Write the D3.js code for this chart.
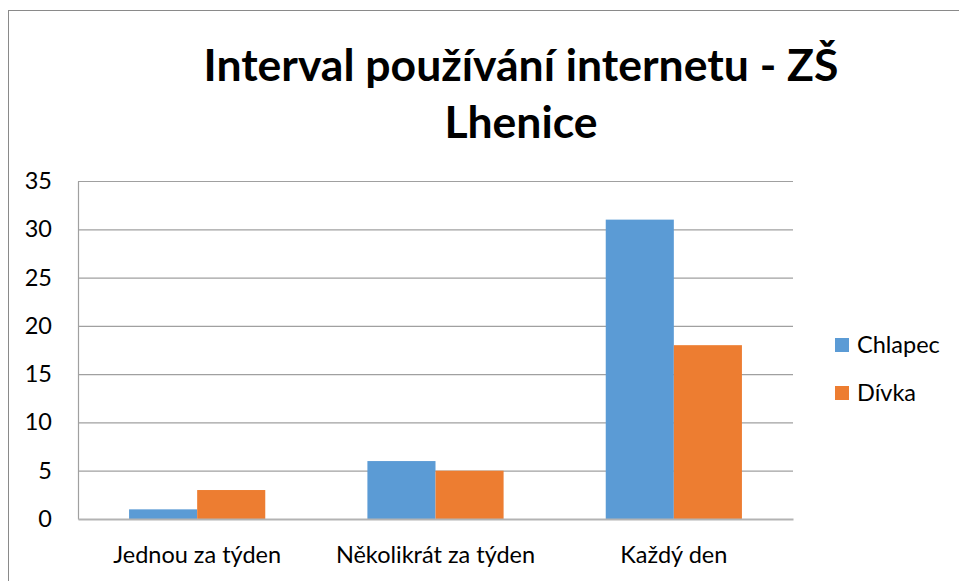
<!DOCTYPE html>
<html><head><meta charset="utf-8">
<script src="https://cdn.jsdelivr.net/npm/d3@7"></script>
<style>body{margin:0;background:#fff}svg{display:block}</style>
</head><body>
<script>
const categories = ["Jednou za týden", "Několikrát za týden", "Každý den"];
const seriesNames = ["Chlapec", "Dívka"];
const chlapec = [1, 6, 31];
const divka = [3, 5, 18];
const yTicks = [0, 5, 10, 15, 20, 25, 30, 35];
const titleLines = ["Interval používání internetu - ZŠ", "Lhenice"];
const colors = ["#5B9BD5", "#ED7D31"];
const seriesValues = [chlapec, divka];

(function () {
const W = 959, H = 581;
const font = "Lato, 'Open Sans', sans-serif";
const fs = 23.5;
const svg = d3.select("body").append("svg").attr("width", W).attr("height", H);

svg.append("rect").attr("x", 8.5).attr("y", 10.5).attr("width", W).attr("height", H)
  .attr("fill", "#fff").attr("stroke", "#8a8a8a").attr("stroke-width", 1);

const pL = 78, pR = 793, pT = 181, pB = 519;
const x0 = d3.scaleBand().domain(categories).range([pL, pR]).paddingInner(0).paddingOuter(0);
const x1 = d3.scaleBand().domain(seriesNames).range([0, x0.bandwidth()]).paddingInner(0).paddingOuter(0.75);
const y = d3.scaleLinear().domain([0, 35]).range([pB, pT]);

const grid = svg.append("g").attr("transform", `translate(${pL},0)`)
  .call(d3.axisLeft(y).tickValues(yTicks.filter(v => v > 0)).tickSize(-(pR - pL)).tickFormat(""));
grid.select(".domain").remove();
grid.selectAll("line").attr("stroke", "#a0a0a0").attr("stroke-width", 1.2);

seriesNames.forEach((s, si) => {
  svg.append("g").selectAll("rect").data(categories).join("rect")
    .attr("x", c => x0(c) + x1(s))
    .attr("width", x1.bandwidth())
    .attr("y", (c, i) => y(seriesValues[si][i]))
    .attr("height", (c, i) => pB - y(seriesValues[si][i]))
    .attr("fill", colors[si]);
});

const ya = svg.append("g").attr("transform", `translate(${pL},0)`)
  .call(d3.axisLeft(y).tickValues(yTicks).tickSize(0).tickPadding(26));
ya.select(".domain").attr("stroke", "#a0a0a0").attr("stroke-width", 1.2);
ya.selectAll("text").attr("font-family", font).attr("font-size", fs).attr("fill", "#000");

const xa = svg.append("g").attr("transform", `translate(0,${pB})`)
  .call(d3.axisBottom(x0).tickSize(0).tickPadding(27));
xa.select(".domain").attr("stroke", "#b3b3b3").attr("stroke-width", 2);
xa.selectAll("text").attr("font-family", font).attr("font-size", fs).attr("fill", "#000");

svg.append("g").selectAll("text").data(titleLines).join("text")
  .attr("x", 521).attr("y", (d, i) => 81 + i * 57)
  .attr("text-anchor", "middle").attr("font-family", font).attr("font-weight", "bold")
  .attr("font-size", 44.5).attr("fill", "#000").text(d => d);

const lg = svg.append("g").selectAll("g").data(seriesNames).join("g")
  .attr("transform", (d, i) => `translate(835,${345 + i * 48})`);
lg.append("rect").attr("x", 0).attr("y", -7).attr("width", 14).attr("height", 14)
  .attr("fill", (d, i) => colors[i]);
lg.append("text").attr("x", 22).attr("y", 0).attr("dy", "0.35em")
  .attr("font-family", font).attr("font-size", fs).attr("fill", "#000").text(d => d);
})();
</script>
</body></html>
